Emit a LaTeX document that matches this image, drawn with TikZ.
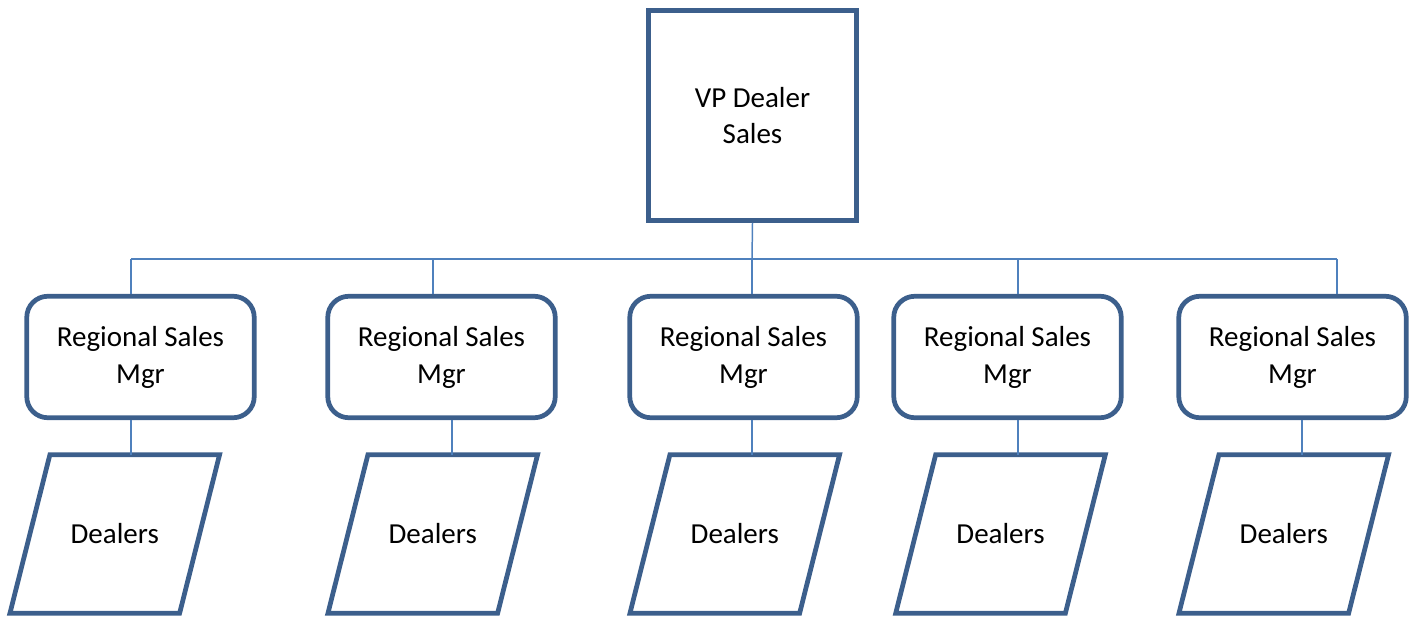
\documentclass[tikz,border=0pt]{standalone}
\usepackage{fontspec}
\setmainfont{Carlito}
\usetikzlibrary{positioning}

\definecolor{boxblue}{HTML}{3C5F8C}
\definecolor{lineblue}{HTML}{4F81BD}

\tikzset{
  chief/.style={draw=boxblue,line width=2.7pt,minimum width=4.16cm,
    minimum height=4.2cm,align=center,inner sep=0pt},
  regmgr/.style={draw=boxblue,line width=2.7pt,rounded corners=0.42cm,
    minimum width=4.55cm,minimum height=2.43cm,align=center,inner sep=0pt},
  dealer/.style={minimum width=3.38cm,minimum height=3.16cm,inner sep=0pt},
  slantbox/.style={draw=boxblue,line width=2.7pt},
  link/.style={draw=lineblue,line width=0.85pt},
}

\begin{document}
\begin{tikzpicture}[x=0.02cm,y=-0.02cm,font=\fontsize{16.5}{21}\selectfont]
  \useasboundingbox (0,0) rectangle (1419,618);
  % top of the chart
  \node[chief] (vp) at (752.5,115.5) {VP Dealer\\Sales};
  \coordinate (bus) at (752,259);
  % one column per region: index / box x / dealer x / top stub / bottom stub
  \foreach \i/\rx/\dx/\up/\dn in {1/140.5/114.75/-0.19/-0.19,
                                 2/441.5/432.75/-0.17/0.21,
                                 3/743.5/734.75/0.17/0.17,
                                 4/1007.5/1000.5/0.21/0.21,
                                 5/1292.5/1283.75/0.89/0.19}
  {
    \node[regmgr] (rsm\i) at (\rx,357) {Regional Sales\\Mgr};
    \node[dealer] (dl\i) at (\dx,534) {Dealers};
    \draw[slantbox]
      ([xshift=0.4cm]dl\i.north west) -- ([xshift=0.4cm]dl\i.north east)
      -- ([xshift=-0.4cm]dl\i.south east) -- ([xshift=-0.4cm]dl\i.south west)
      -- cycle;
    \draw[link] ([xshift=\up cm]rsm\i.north) -- ([xshift=\up cm]rsm\i.north |- bus);
    \draw[link] ([xshift=\dn cm]rsm\i.south) -- ([xshift=\dn cm]rsm\i.south |- dl\i.north);
  }
  % the bus line
  \draw[link] (vp.south) -- (bus);
  \draw[link] ([xshift=-0.19cm]rsm1.north |- bus) -- ([xshift=0.89cm]rsm5.north |- bus);
\end{tikzpicture}
\end{document}
